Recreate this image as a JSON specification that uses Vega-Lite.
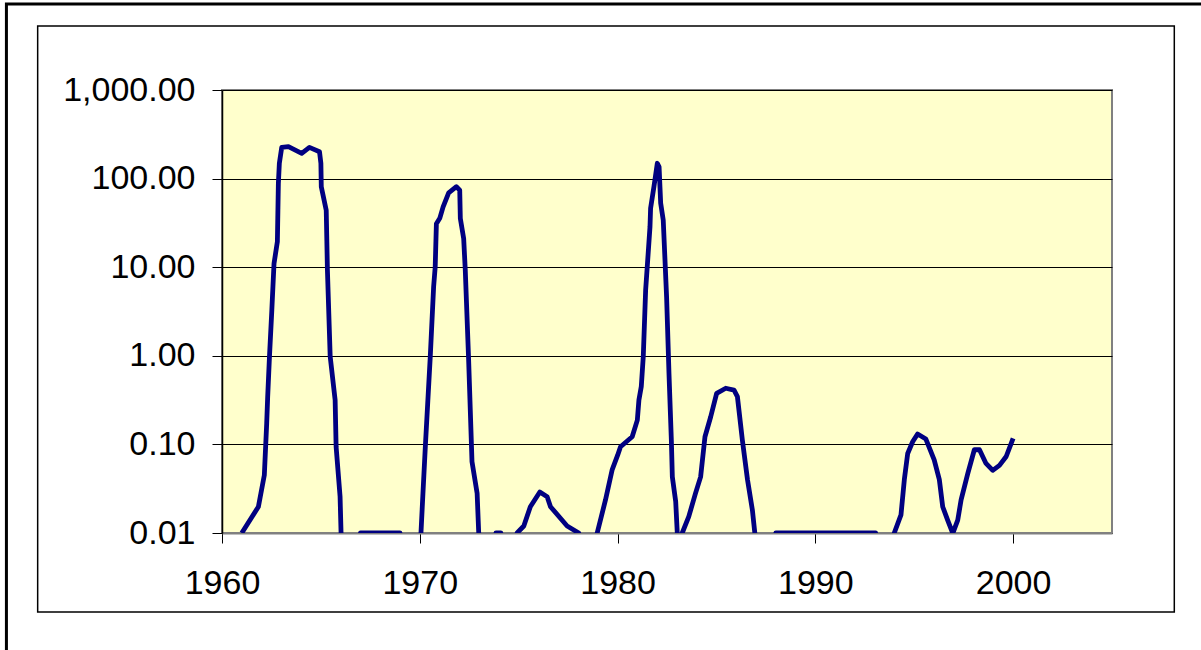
{
  "$schema": "https://vega.github.io/schema/vega-lite/v6.json",
  "autosize": "none",
  "width": 890,
  "height": 443,
  "padding": {"left": 222, "top": 90, "right": 89, "bottom": 117},
  "background": "white",
  "config": {
    "view": {"stroke": "#808080", "strokeWidth": 2, "fill": "#FFFFCC"},
    "axis": {
      "labelFont": "Liberation Sans",
      "labelFontSize": 34,
      "labelColor": "black",
      "tickColor": "black",
      "tickSize": 10,
      "tickWidth": 1,
      "title": null
    }
  },
  "datasets": {
    "series": [
      {"year": 1961.0, "value": 0.01},
      {"year": 1961.84, "value": 0.0198},
      {"year": 1962.14, "value": 0.045},
      {"year": 1962.26, "value": 0.173},
      {"year": 1962.31, "value": 0.346},
      {"year": 1962.40, "value": 0.98},
      {"year": 1962.52, "value": 3.3},
      {"year": 1962.63, "value": 11},
      {"year": 1962.80, "value": 19.4},
      {"year": 1962.85, "value": 88},
      {"year": 1962.90, "value": 149},
      {"year": 1963.02, "value": 225},
      {"year": 1963.36, "value": 229},
      {"year": 1964.03, "value": 193},
      {"year": 1964.42, "value": 225},
      {"year": 1964.93, "value": 201},
      {"year": 1965.0, "value": 149},
      {"year": 1965.02, "value": 81},
      {"year": 1965.27, "value": 44},
      {"year": 1965.33, "value": 9.3},
      {"year": 1965.47, "value": 0.98},
      {"year": 1965.72, "value": 0.317},
      {"year": 1965.77, "value": 0.094},
      {"year": 1965.97, "value": 0.0257},
      {"year": 1966.02, "value": 0.01},
      {"year": 1966.5, "value": 0.001},
      {"year": 1967.0, "value": 0.01},
      {"year": 1968.0, "value": 0.01},
      {"year": 1969.0, "value": 0.01},
      {"year": 1969.5, "value": 0.001},
      {"year": 1970.06, "value": 0.01},
      {"year": 1970.16, "value": 0.028},
      {"year": 1970.28, "value": 0.094},
      {"year": 1970.53, "value": 0.98},
      {"year": 1970.70, "value": 6.0},
      {"year": 1970.78, "value": 10.1},
      {"year": 1970.84, "value": 31},
      {"year": 1971.01, "value": 35.6},
      {"year": 1971.18, "value": 48},
      {"year": 1971.46, "value": 69},
      {"year": 1971.85, "value": 81},
      {"year": 1972.02, "value": 74},
      {"year": 1972.05, "value": 35.6},
      {"year": 1972.22, "value": 21},
      {"year": 1972.30, "value": 9.3},
      {"year": 1972.47, "value": 0.9},
      {"year": 1972.64, "value": 0.064},
      {"year": 1972.90, "value": 0.028},
      {"year": 1972.98, "value": 0.01},
      {"year": 1973.4, "value": 0.001},
      {"year": 1973.85, "value": 0.01},
      {"year": 1974.1, "value": 0.01},
      {"year": 1974.5, "value": 0.001},
      {"year": 1974.92, "value": 0.01},
      {"year": 1975.26, "value": 0.012},
      {"year": 1975.59, "value": 0.0198},
      {"year": 1976.07, "value": 0.029},
      {"year": 1976.44, "value": 0.0257},
      {"year": 1976.61, "value": 0.0198},
      {"year": 1977.45, "value": 0.012},
      {"year": 1978.04, "value": 0.01},
      {"year": 1978.5, "value": 0.001},
      {"year": 1978.97, "value": 0.01},
      {"year": 1979.39, "value": 0.0236},
      {"year": 1979.73, "value": 0.052},
      {"year": 1980.0, "value": 0.075},
      {"year": 1980.15, "value": 0.094},
      {"year": 1980.74, "value": 0.122},
      {"year": 1981.0, "value": 0.188},
      {"year": 1981.08, "value": 0.317},
      {"year": 1981.2, "value": 0.45},
      {"year": 1981.3, "value": 0.98},
      {"year": 1981.42, "value": 5.5},
      {"year": 1981.64, "value": 28.6},
      {"year": 1981.67, "value": 46},
      {"year": 1981.84, "value": 81},
      {"year": 1982.01, "value": 149},
      {"year": 1982.1, "value": 136},
      {"year": 1982.18, "value": 53},
      {"year": 1982.31, "value": 34},
      {"year": 1982.48, "value": 4.6},
      {"year": 1982.6, "value": 0.634},
      {"year": 1982.72, "value": 0.112},
      {"year": 1982.77, "value": 0.043},
      {"year": 1982.94, "value": 0.0226},
      {"year": 1983.02, "value": 0.01},
      {"year": 1983.15, "value": 0.006},
      {"year": 1983.27, "value": 0.01},
      {"year": 1983.6, "value": 0.0153},
      {"year": 1983.94, "value": 0.028},
      {"year": 1984.2, "value": 0.043},
      {"year": 1984.42, "value": 0.122},
      {"year": 1984.71, "value": 0.205},
      {"year": 1985.01, "value": 0.377},
      {"year": 1985.47, "value": 0.43},
      {"year": 1985.89, "value": 0.41},
      {"year": 1986.06, "value": 0.346},
      {"year": 1986.31, "value": 0.112},
      {"year": 1986.57, "value": 0.04},
      {"year": 1986.82, "value": 0.018},
      {"year": 1986.94, "value": 0.01},
      {"year": 1987.5, "value": 0.001},
      {"year": 1988.0, "value": 0.01},
      {"year": 1989.0, "value": 0.01},
      {"year": 1990.0, "value": 0.01},
      {"year": 1991.0, "value": 0.01},
      {"year": 1992.0, "value": 0.01},
      {"year": 1993.05, "value": 0.01},
      {"year": 1993.5, "value": 0.001},
      {"year": 1993.99, "value": 0.01},
      {"year": 1994.33, "value": 0.016},
      {"year": 1994.5, "value": 0.04},
      {"year": 1994.67, "value": 0.079},
      {"year": 1994.92, "value": 0.107},
      {"year": 1995.17, "value": 0.131},
      {"year": 1995.59, "value": 0.115},
      {"year": 1996.01, "value": 0.067},
      {"year": 1996.27, "value": 0.04},
      {"year": 1996.44, "value": 0.0198},
      {"year": 1996.69, "value": 0.014},
      {"year": 1996.95, "value": 0.0099},
      {"year": 1997.2, "value": 0.014},
      {"year": 1997.37, "value": 0.0236},
      {"year": 1997.71, "value": 0.047},
      {"year": 1998.04, "value": 0.087},
      {"year": 1998.3, "value": 0.087},
      {"year": 1998.63, "value": 0.061},
      {"year": 1998.97, "value": 0.051},
      {"year": 1999.31, "value": 0.058},
      {"year": 1999.65, "value": 0.073},
      {"year": 2000.0, "value": 0.117}
    ],
    "frames": [
      {"x0": 1950.68, "x1": 2008.15, "y0": 0.00128, "y1": 5272, "w": 1.5},
      {"x0": 1949.1, "x1": 2011, "y0": 0.00035, "y1": 9350, "w": 3}
    ]
  },
  "layer": [
    {
      "data": {"name": "series"},
      "mark": {"type": "line", "color": "#000080", "strokeWidth": 4.8, "clip": true, "strokeJoin": "round", "strokeCap": "butt"},
      "encoding": {
        "x": {
          "field": "year", "type": "quantitative",
          "scale": {"domain": [1960, 2005], "nice": false, "zero": false},
          "axis": {"values": [1960, 1970, 1980, 1990, 2000], "format": "d", "grid": false, "domainColor": "#808080", "domainWidth": 2, "labelPadding": 23, "labelFlush": false, "labelOverlap": false}
        },
        "y": {
          "field": "value", "type": "quantitative",
          "scale": {"type": "log", "domain": [0.01, 1000], "nice": false},
          "axis": {"values": [0.01, 0.1, 1, 10, 100, 1000], "format": ",.2f", "grid": true, "gridColor": "black", "gridWidth": 1, "gridOpacity": 1, "domainColor": "black", "domainWidth": 1.5, "labelPadding": 17, "labelFlush": false, "labelOverlap": false}
        }
      }
    },
    {
      "data": {"name": "frames"},
      "mark": {"type": "rect", "fill": null, "fillOpacity": 0, "stroke": "black", "clip": false},
      "encoding": {
        "x": {"field": "x0", "type": "quantitative"},
        "x2": {"field": "x1"},
        "y": {"field": "y0", "type": "quantitative"},
        "y2": {"field": "y1"},
        "strokeWidth": {"field": "w", "type": "quantitative", "scale": null}
      }
    }
  ]
}
